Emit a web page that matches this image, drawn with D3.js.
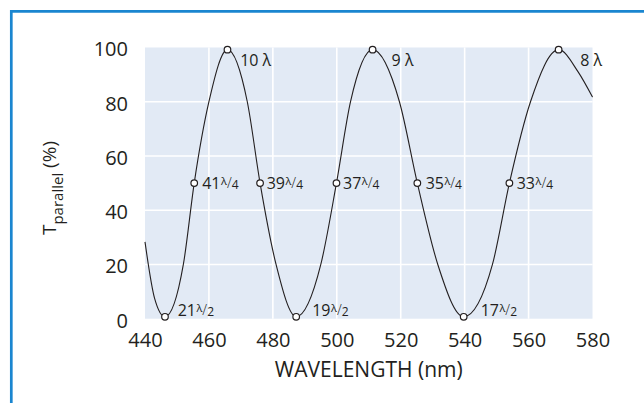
<!DOCTYPE html>
<html>
<head>
<meta charset="utf-8">
<script src="https://cdn.jsdelivr.net/npm/d3@7"></script>
<style>
  html, body { margin: 0; padding: 0; background: #fff; }
  svg { display: block; }
  text { font-family: "Open Sans", "Noto Sans", sans-serif; fill: #231f20; }
</style>
</head>
<body>
<svg id="chart" width="644" height="403"></svg>
<script>
// ---- data ----
const curveWavelengths = [440, 443, 446.25, 452.0, 455.4, 460.0, 465.8, 472.0, 476.0, 481.0, 487.3, 495.0, 499.9, 504.3, 511.2, 519.6, 525.2, 531.6, 539.7, 548.7, 554.0, 560.6, 569.4, 575.5, 580];
const curveValues      = [28.3, 7.5, 0.7, 20, 50, 80, 99.2, 80, 50, 20, 0.7, 20, 50, 80, 99.2, 80, 50, 20, 0.7, 20, 50, 80, 99.2, 91, 81.7];

const peakWavelengths = [465.8, 511.2, 569.4];
const peakValues      = [99.2, 99.2, 99.2];
const peakOrders      = ["10", "9", "8"];

const quarterWavelengths = [455.4, 476.0, 499.9, 525.2, 554.0];
const quarterValues      = [50, 50, 50, 50, 50];
const quarterOrders      = ["41", "39", "37", "35", "33"];

const halfWavelengths = [446.25, 487.3, 539.7];
const halfValues      = [0.7, 0.7, 0.7];
const halfOrders      = ["21", "19", "17"];

const xTicks = [440, 460, 480, 500, 520, 540, 560, 580];
const yTicks = [0, 20, 40, 60, 80, 100];

// ---- layout ----
const svg = d3.select("#chart");
const x = d3.scaleLinear().domain([440, 580]).range([145, 592.5]);
const y = d3.scaleLinear().domain([0, 100]).range([318.7, 47.5]);

// label offsets (layout only)
const peakDx = [12.7, 19, 21.7];
const quarterDx = [8, 6.6, 6.6, 8.3, 7.3];
const halfDx = [12.7, 16, 17];

// frame lines (top + left)
svg.append("line").attr("x1", 11.3).attr("x2", 644).attr("y1", 11.3).attr("y2", 11.3)
  .attr("stroke", "#1a86d0").attr("stroke-width", 2.7);
svg.append("line").attr("x1", 11.3).attr("x2", 11.3).attr("y1", 10).attr("y2", 403)
  .attr("stroke", "#1a86d0").attr("stroke-width", 2.7);

// plot background
svg.append("rect")
  .attr("x", x(440)).attr("y", y(100))
  .attr("width", x(580) - x(440)).attr("height", y(0) - y(100))
  .attr("fill", "#e2eaf5");

// grid
const g = svg.append("g");
g.selectAll("line.vg").data(xTicks.filter(d => d > 440 && d < 580)).join("line")
  .attr("x1", d => x(d)).attr("x2", d => x(d)).attr("y1", y(0)).attr("y2", y(100))
  .attr("stroke", "#fff").attr("stroke-width", 1.6);
g.selectAll("line.hg").data(yTicks.filter(d => d > 0 && d < 100)).join("line")
  .attr("x1", x(440)).attr("x2", x(580)).attr("y1", d => y(d)).attr("y2", d => y(d))
  .attr("stroke", "#fff").attr("stroke-width", 1.6);

// axes (labels only)
const xAxis = d3.axisBottom(x).tickValues(xTicks).tickSize(0).tickPadding(0);
const xg = svg.append("g").attr("transform", `translate(0,${y(0)})`).call(xAxis);
xg.select(".domain").remove();
xg.selectAll("text").attr("y", 0).attr("dy", 0)
  .attr("transform", "translate(0,28.5)")
  .style("font-size", "20px").style("font-family", "'Open Sans', sans-serif").attr("fill", "#231f20");

const yAxis = d3.axisLeft(y).tickValues(yTicks).tickSize(0).tickPadding(0);
const yg = svg.append("g").attr("transform", `translate(128,0)`).call(yAxis);
yg.select(".domain").remove();
yg.selectAll("text").attr("x", 0).attr("dy", "0.42em")
  .style("font-size", "20px").style("font-family", "'Open Sans', sans-serif").attr("fill", "#231f20");

// axis titles
svg.append("text").attr("x", (x(440) + x(580)) / 2).attr("y", 377)
  .attr("text-anchor", "middle").style("font-size", "21px").text("WAVELENGTH (nm)");

const yt = svg.append("text").attr("transform", "translate(56,188) rotate(-90)")
  .attr("text-anchor", "middle").style("font-size", "19px");
yt.append("tspan").text("T");
yt.append("tspan").attr("dy", 7).style("font-size", "15px").text("parallel");
yt.append("tspan").attr("dy", -7).text(" (%)");

// curve
const pts = curveWavelengths.map((w, i) => [w, curveValues[i]]);
svg.append("path").datum(pts)
  .attr("d", d3.line().x(d => x(d[0])).y(d => y(d[1])).curve(d3.curveMonotoneX))
  .attr("fill", "none").attr("stroke", "#231f20").attr("stroke-width", 1.1);

// markers + labels
function fracLabel(sel, order, denom) {
  sel.append("tspan").text(order);
  sel.append("tspan").attr("dy", -4).attr("dx", 0.5).style("font-size", "11px").text("λ");
  sel.append("tspan").attr("dy", 3).style("font-size", "14px").style("font-weight", 300).text("/");
  sel.append("tspan").attr("dy", 1).style("font-size", "12px").text(denom);
}

const markers = [];
peakWavelengths.forEach((w, i) => markers.push({ w, v: peakValues[i], kind: "peak", order: peakOrders[i], dx: peakDx[i] }));
quarterWavelengths.forEach((w, i) => markers.push({ w, v: quarterValues[i], kind: "quarter", order: quarterOrders[i], dx: quarterDx[i] }));
halfWavelengths.forEach((w, i) => markers.push({ w, v: halfValues[i], kind: "half", order: halfOrders[i], dx: halfDx[i] }));

svg.selectAll("circle.m").data(markers).join("circle")
  .attr("cx", d => x(d.w)).attr("cy", d => y(d.v)).attr("r", 3.3)
  .attr("fill", "#fff").attr("stroke", "#231f20").attr("stroke-width", 1.2);

markers.forEach(d => {
  const cx = x(d.w), cy = y(d.v);
  if (d.kind === "peak") {
    svg.append("text").attr("x", cx + d.dx).attr("y", cy + 16.5)
      .style("font-size", "16px").text(d.order + " λ");
  } else if (d.kind === "quarter") {
    const t = svg.append("text").attr("x", cx + d.dx).attr("y", cy + 5.8).style("font-size", "16px");
    fracLabel(t, d.order, "4");
  } else {
    const t = svg.append("text").attr("x", cx + d.dx).attr("y", cy - 0.8).style("font-size", "16px");
    fracLabel(t, d.order, "2");
  }
});
</script>
</body>
</html>
